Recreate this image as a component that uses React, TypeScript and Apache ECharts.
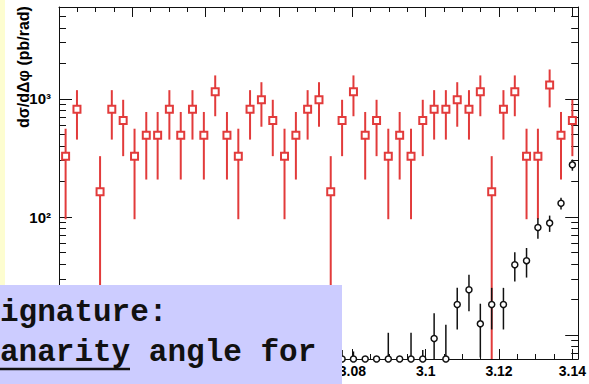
import { useEffect, useRef } from 'react';
import * as echarts from 'echarts';

// Δφ bin centres (bins of width π/1000)
const PHI_CENTRES = [
  3.0018, 3.0049, 3.0081, 3.0112, 3.0144, 3.0175, 3.0206, 3.0238, 3.0269, 3.0301,
  3.0332, 3.0364, 3.0395, 3.0426, 3.0458, 3.0489, 3.0521, 3.0552, 3.0583, 3.0615,
  3.0646, 3.0678, 3.0709, 3.0741, 3.0772, 3.0803, 3.0835, 3.0866, 3.0898, 3.0929,
  3.0960, 3.0992, 3.1023, 3.1055, 3.1086, 3.1118, 3.1149, 3.1180, 3.1212, 3.1243,
  3.1275, 3.1306, 3.1338, 3.1369, 3.1400,
];

// red histogram: dσ/dΔφ (pb/rad) and its uncertainty; null = empty bin
const SIGNAL_XSEC = [
  328, 820, null, 164, 820, 656, 328, 492, 492, 820,
  492, 820, 492, 1148, 492, 328, 820, 984, 656, 328,
  492, 820, 984, 164, 656, 1148, 492, 656, 328, 492,
  328, 656, 820, 820, 984, 820, 1148, 164, 820, 1148,
  328, 328, 1312, 492, 656,
];
const SIGNAL_ERR = [
  232, 367, null, 164, 367, 328, 232, 284, 284, 367,
  284, 367, 284, 434, 284, 232, 367, 402, 328, 232,
  284, 367, 402, 164, 328, 434, 284, 328, 232, 284,
  232, 328, 367, 367, 402, 367, 434, 164, 367, 434,
  232, 232, 464, 284, 328,
];

// black histogram (last 21 bins)
const BKG_PHI = [
  3.0772, 3.0803, 3.0835, 3.0866, 3.0898, 3.0929, 3.0960, 3.0992, 3.1023, 3.1055,
  3.1086, 3.1118, 3.1149, 3.1180, 3.1212, 3.1243, 3.1275, 3.1306, 3.1338, 3.1369,
  3.1400,
];
const BKG_XSEC = [
  6.3, 6.3, 6.3, 6.3, 6.3, 6.3, 6.3, 6.3, 9.4, 6.3,
  18.2, 24.3, 12.5, 18.2, 18.2, 39.5, 42.8, 81.6, 89, 131,
  277,
];
const BKG_ERR = [
  1.2, 1.0, 0, 0, 4.2, 0, 4.2, 1.2, 6, 6,
  7, 8.3, 6, 7, 7, 11, 12, 16, 14, 15,
  30,
];

// axis ranges, ticks and labelled ticks
const X_MIN = 3.0;
const X_MAX = Math.PI;
const Y_MIN = 6.3;
const Y_MAX = 6000;
const X_MAJOR = [3.0, 3.02, 3.04, 3.06, 3.08, 3.1, 3.12, 3.14];
const X_LABELS = [3.08, 3.1, 3.12, 3.14];
const X_MINOR = [
  3.005, 3.01, 3.015, 3.025, 3.03, 3.035, 3.045, 3.05, 3.055, 3.065, 3.07,
  3.075, 3.085, 3.09, 3.095, 3.105, 3.11, 3.115, 3.125, 3.13, 3.135,
];
const Y_MAJOR = [10, 100, 1000];
const Y_LABELS = [100, 1000];
const Y_MINOR = [
  7, 8, 9, 20, 30, 40, 50, 60, 70, 80, 90, 200, 300, 400, 500, 600, 700, 800, 900,
  2000, 3000, 4000, 5000,
];

const Y_TITLE = 'dσ/dΔφ (pb/rad)';
const NOTE_LINE_1 = 'ignature:';
const NOTE_LINE_2 = 'anarity angle for';

const RED = '#e23b3b';
const INK = '#111111';
const SUPERSCRIPT: Record<string, string> = { '1': '', '2': '²', '3': '³' };

function errorBarSeries(
  xs: number[],
  vals: (number | null)[],
  errs: (number | null)[],
  color: string,
  width: number,
) {
  const data: number[][] = [];
  xs.forEach((x, i) => {
    const v = vals[i];
    const e = errs[i];
    if (v == null || e == null || e <= 0) return;
    data.push([x, v - e, v + e]);
  });
  return {
    type: 'custom',
    xAxisIndex: 0,
    yAxisIndex: 0,
    encode: { x: 0, y: [1, 2] },
    data,
    renderItem: (_params: any, api: any) => {
      const x = api.value(0);
      const lo = Math.max(api.value(1), Y_MIN);
      const hi = Math.min(api.value(2), Y_MAX);
      const p1 = api.coord([x, lo]);
      const p2 = api.coord([x, hi]);
      return {
        type: 'line',
        shape: { x1: p1[0], y1: p1[1], x2: p2[0], y2: p2[1] },
        style: { stroke: color, lineWidth: width },
      };
    },
  };
}

function xAxisDef(position: 'bottom' | 'top', ticks: number[], len: number, labels: boolean, line: boolean) {
  return {
    type: 'value',
    position,
    min: X_MIN,
    max: X_MAX,
    splitLine: { show: false },
    axisLine: { show: line, onZero: false, lineStyle: { color: INK, width: 1 } },
    axisTick: { show: true, inside: true, length: len, customValues: ticks, lineStyle: { color: INK, width: 1 } },
    axisLabel: labels
      ? {
          show: true,
          customValues: X_LABELS,
          margin: 5,
          color: '#000',
          fontFamily: 'Liberation Sans, Arial, sans-serif',
          fontWeight: 'bold',
          fontSize: 14,
          formatter: (v: number) => String(parseFloat(v.toFixed(2))),
        }
      : { show: false },
  };
}

function yAxisDef(position: 'left' | 'right', ticks: number[], len: number, labels: boolean, line: boolean) {
  return {
    type: 'log',
    logBase: 10,
    position,
    min: Y_MIN,
    max: Y_MAX,
    splitLine: { show: false },
    axisLine: { show: line, onZero: false, lineStyle: { color: INK, width: 1 } },
    axisTick: { show: true, inside: true, length: len, customValues: ticks, lineStyle: { color: INK, width: 1 } },
    axisLabel: labels
      ? {
          show: true,
          customValues: Y_LABELS,
          margin: 8,
          color: '#000',
          fontFamily: 'Liberation Sans, Arial, sans-serif',
          fontWeight: 'bold',
          fontSize: 15,
          formatter: (v: number) => {
            const exp = String(Math.round(Math.log10(v)));
            return '10' + (SUPERSCRIPT[exp] ?? '');
          },
        }
      : { show: false },
  };
}

export default function App() {
  const ref = useRef<HTMLDivElement>(null);

  useEffect(() => {
    if (!ref.current) return;
    const chart = echarts.init(ref.current, undefined, { renderer: 'svg' });

    const signalPoints = PHI_CENTRES.map((x, i) => [x, SIGNAL_XSEC[i]]).filter((p) => p[1] != null);
    const bkgPoints = BKG_PHI.map((x, i) => [x, BKG_XSEC[i]]);

    chart.setOption({
      animation: false,
      backgroundColor: '#ffffff',
      grid: { left: 59, right: 9, top: 7, bottom: 25, containLabel: false },
      xAxis: [
        xAxisDef('bottom', X_MAJOR, 10, true, true),
        xAxisDef('bottom', X_MINOR, 5, false, false),
        xAxisDef('top', X_MAJOR, 10, false, true),
        xAxisDef('top', X_MINOR, 5, false, false),
      ],
      yAxis: [
        yAxisDef('left', Y_MAJOR, 13, true, true),
        yAxisDef('left', Y_MINOR, 7, false, false),
        yAxisDef('right', Y_MAJOR, 13, false, true),
        yAxisDef('right', Y_MINOR, 7, false, false),
      ],
      series: [
        errorBarSeries(PHI_CENTRES, SIGNAL_XSEC, SIGNAL_ERR, RED, 2),
        {
          type: 'scatter',
          xAxisIndex: 0,
          yAxisIndex: 0,
          clip: false,
          symbol: 'rect',
          symbolSize: 7,
          itemStyle: { color: '#ffffff', borderColor: RED, borderWidth: 2, opacity: 1 },
          data: signalPoints,
        },
        errorBarSeries(BKG_PHI, BKG_XSEC, BKG_ERR, INK, 1.5),
        {
          type: 'scatter',
          xAxisIndex: 0,
          yAxisIndex: 0,
          clip: false,
          symbol: 'circle',
          symbolSize: 6,
          itemStyle: { color: '#ffffff', borderColor: INK, borderWidth: 1.5, opacity: 1 },
          data: bkgPoints,
        },
      ],
      graphic: [
        {
          type: 'rect',
          z: 0,
          shape: { x: 0, y: 0, width: 5, height: 285 },
          style: { fill: '#fdfdd0' },
        },
        {
          type: 'text',
          z: 10,
          x: 23,
          y: 67,
          rotation: Math.PI / 2,
          style: {
            text: Y_TITLE,
            fill: '#000',
            font: 'bold 16px "Liberation Sans", Arial, sans-serif',
            align: 'center',
            verticalAlign: 'middle',
          },
        },
        {
          type: 'rect',
          z: 100,
          shape: { x: 0, y: 285, width: 342, height: 99 },
          style: { fill: '#ccccff' },
        },
        {
          type: 'text',
          z: 101,
          x: 0,
          y: 312,
          style: {
            text: NOTE_LINE_1,
            fill: '#111',
            font: 'bold 31px "Liberation Mono", "Courier New", monospace',
            align: 'left',
            verticalAlign: 'middle',
          },
        },
        {
          type: 'text',
          z: 101,
          x: 0,
          y: 352,
          style: {
            text: NOTE_LINE_2,
            fill: '#111',
            font: 'bold 31px "Liberation Mono", "Courier New", monospace',
            align: 'left',
            verticalAlign: 'middle',
          },
        },
        {
          type: 'line',
          z: 101,
          shape: { x1: 0, y1: 369, x2: 130, y2: 369 },
          style: { stroke: '#111', lineWidth: 2.5 },
        },
      ],
    });

    return () => chart.dispose();
  }, []);

  return (
    <div
      ref={ref}
      style={{ position: 'fixed', left: 0, top: 0, width: 589, height: 384 }}
    />
  );
}
